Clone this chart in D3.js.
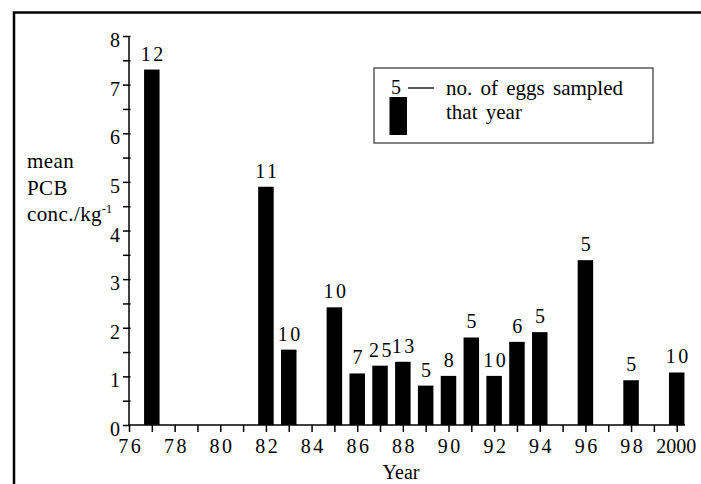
<!DOCTYPE html>
<html><head><meta charset="utf-8">
<script src="https://cdn.jsdelivr.net/npm/d3@7"></script>
<style>
body{margin:0;background:#fff}
text{fill:#000}
</style>
</head><body>
<svg id="c" width="701" height="484"></svg>
<script>
const years = [77, 82, 83, 85, 86, 87, 88, 89, 90, 91, 92, 93, 94, 96, 98, 100];
const pcb   = [7.31, 4.9, 1.55, 2.42, 1.06, 1.22, 1.3, 0.81, 1.01, 1.8, 1.01, 1.71, 1.91, 3.39, 0.92, 1.08];
const eggs  = [12, 11, 10, 10, 7, 25, 13, 5, 8, 5, 10, 6, 5, 5, 5, 10];
const xTickYears  = [76, 78, 80, 82, 84, 86, 88, 90, 92, 94, 96, 98, 100];
const xTickLabels = ["76","78","80","82","84","86","88","90","92","94","96","98","2000"];
const yTickValues = [0,1,2,3,4,5,6,7,8];
const yTickLabels = ["0","1","2","3","4","5","6","7","8"];

const FF = "Liberation Serif";
const svg = d3.select("#c");
const x = d3.scaleLinear().domain([76, 100]).range([129, 676.7]);
const y = d3.scaleLinear().domain([0, 8]).range([425, 36]);

// frame
svg.append("rect").attr("x", 14).attr("y", 12.5).attr("width", 800).attr("height", 600)
  .attr("fill", "none").attr("stroke", "#000").attr("stroke-width", 2.5);

// bars
svg.selectAll("rect.bar").data(years).join("rect").attr("class", "bar")
  .attr("x", d => x(d) - 7.75).attr("width", 15.5)
  .attr("y", (d, i) => y(pcb[i])).attr("height", (d, i) => y(0) - y(pcb[i]))
  .attr("fill", "#000");

// bar labels
svg.selectAll("text.lab").data(years).join("text").attr("class", "lab")
  .attr("x", d => x(d) + 1.5).attr("y", (d, i) => y(pcb[i]) - 9)
  .attr("text-anchor", "middle").attr("font-size", 20).attr("letter-spacing", 2.5)
  .style("font-family", FF)
  .text((d, i) => eggs[i]);

// x axis
const xa = svg.append("g").attr("transform", `translate(0,${y(0)})`)
  .call(d3.axisBottom(x).tickValues(d3.range(76, 101)).tickSize(7)
    .tickFormat(d => { const k = xTickYears.indexOf(d); return k >= 0 ? xTickLabels[k] : ""; }));
xa.select(".domain").remove();
xa.selectAll("line").attr("stroke", "#000").attr("stroke-width", 1.5);
xa.selectAll("text").attr("font-size", 20).attr("dy", null).attr("y", 28)
  .style("font-family", FF)
  .attr("letter-spacing", d => d === 100 ? 0 : 2.5).attr("dx", d => d === 100 ? -1 : 1.25);
svg.append("line").attr("x1", 128.25).attr("x2", 685).attr("y1", y(0)).attr("y2", y(0))
  .attr("stroke", "#000").attr("stroke-width", 1.5);

// y axis
const ya = svg.append("g").attr("transform", `translate(${x(76)},0)`)
  .call(d3.axisLeft(y).tickValues(d3.range(0, 8.01, 0.5)).tickSize(6)
    .tickFormat(d => { const k = yTickValues.indexOf(d); return k >= 0 ? yTickLabels[k] : ""; }));
ya.select(".domain").remove();
ya.selectAll("line").attr("stroke", "#000").attr("stroke-width", 1.5).attr("x2", -6).attr("x1", 1.5);
ya.selectAll("text").attr("font-size", 20).attr("dy", null).attr("y", 10.5).attr("x", -9)
  .style("font-family", FF);
svg.append("line").attr("x1", x(76)).attr("x2", x(76)).attr("y1", y(0) + 0.75).attr("y2", y(8))
  .attr("stroke", "#000").attr("stroke-width", 1.5);

// y label
const yl = svg.append("g").attr("font-size", 21).style("font-family", FF).attr("letter-spacing", 0.4);
yl.append("text").attr("x", 27).attr("y", 168).text("mean");
yl.append("text").attr("x", 27).attr("y", 194.5).text("PCB");
const cl = yl.append("text").attr("x", 27).attr("y", 221);
cl.append("tspan").text("conc./kg");
cl.append("tspan").attr("font-size", 12).attr("dy", -8).attr("letter-spacing", 0).text("-1");

// x label
svg.append("text").attr("x", 401).attr("y", 479).attr("text-anchor", "middle")
  .attr("font-size", 20).style("font-family", FF).text("Year");

// legend
const lg = svg.append("g").style("font-family", FF);
lg.append("rect").attr("x", 374).attr("y", 68).attr("width", 279).attr("height", 75)
  .attr("fill", "#fff").attr("stroke", "#333").attr("stroke-width", 1.2);
lg.append("text").attr("x", 391).attr("y", 94).attr("font-size", 20).text("5");
lg.append("line").attr("x1", 408).attr("x2", 434).attr("y1", 88).attr("y2", 88)
  .attr("stroke", "#000").attr("stroke-width", 1.3);
lg.append("rect").attr("x", 389.5).attr("y", 97).attr("width", 17.5).attr("height", 38).attr("fill", "#000");
lg.append("text").attr("x", 446).attr("y", 94.5).attr("font-size", 21).attr("word-spacing", 3)
  .text("no. of eggs sampled");
lg.append("text").attr("x", 446).attr("y", 118.5).attr("font-size", 21).attr("word-spacing", 3)
  .text("that year");
</script>
</body></html>
